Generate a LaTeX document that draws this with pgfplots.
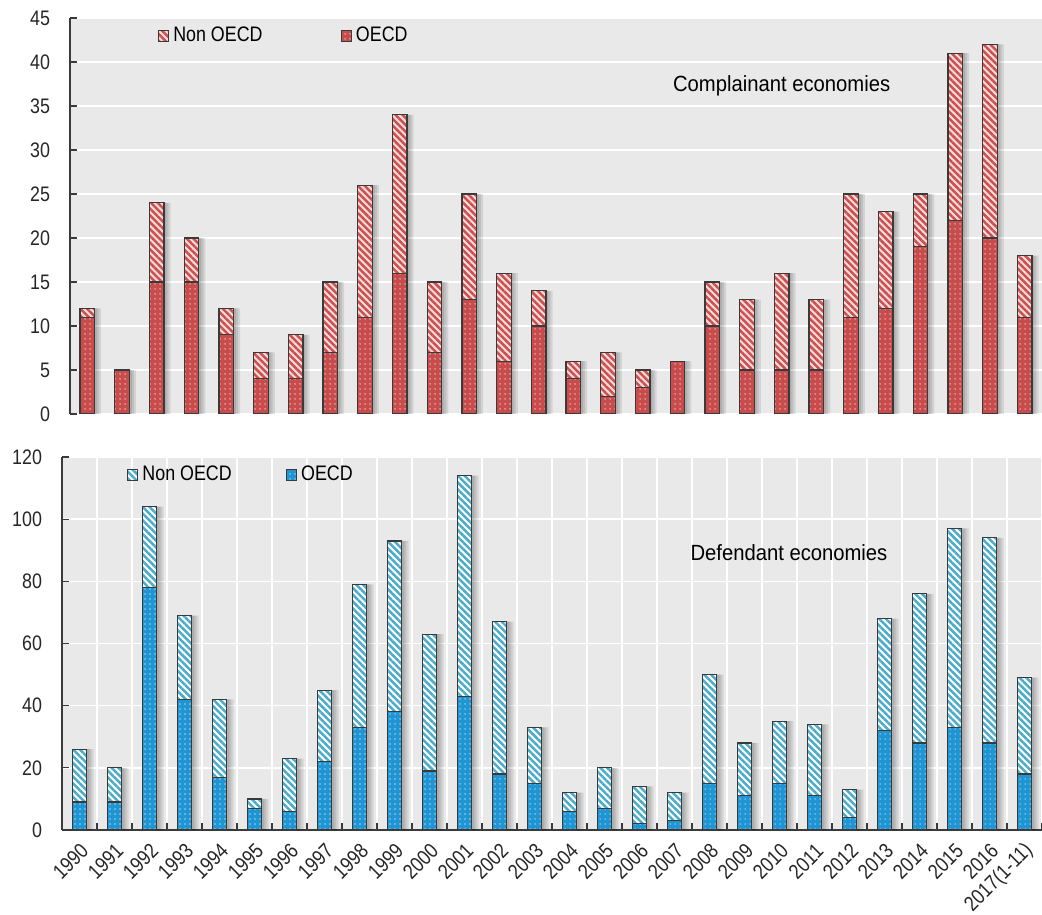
\documentclass[border=0pt]{standalone}
\usepackage{fontspec}
\setmainfont{Liberation Sans}[FakeStretch=0.85]
\newfontfamily\titlefont{Liberation Sans}[FakeStretch=0.92]
\usepackage{pgfplots}
\pgfplotsset{compat=1.18}
\usepackage{pgfplotstable}
\usetikzlibrary{patterns.meta}

\definecolor{redO}{HTML}{C94C4C}
\definecolor{redN}{HTML}{CD5050}
\definecolor{pinkbg}{HTML}{F7DCDC}
\definecolor{blueO}{HTML}{1F95D3}
\definecolor{blueN}{HTML}{4AABCB}
\definecolor{bggray}{HTML}{E9E9E9}
\definecolor{edge}{HTML}{3A3A3A}

\pgfplotstableread{
x tot oecd
0 12 11
1 5 5
2 24 15
3 20 15
4 12 9
5 7 4
6 9 4
7 15 7
8 26 11
9 34 16
10 15 7
11 25 13
12 16 6
13 14 10
14 6 4
15 7 2
16 5 3
17 6 6
18 15 10
19 13 5
20 16 5
21 13 5
22 25 11
23 23 12
24 25 19
25 41 22
26 42 20
27 18 11
}\comp

\pgfplotstableread{
x tot oecd
0 26 9
1 20 9
2 104 78
3 69 42
4 42 17
5 10 7
6 23 6
7 45 22
8 79 33
9 93 38
10 63 19
11 114 43
12 67 18
13 33 15
14 12 6
15 20 7
16 14 2
17 12 3
18 50 15
19 28 11
20 35 15
21 34 11
22 13 4
23 68 32
24 76 28
25 97 33
26 94 28
27 49 18
}\defe

\pgfplotsset{
 base/.style={
  scale only axis,
  ybar, bar width=0.42,
  xmin=-0.5, xmax=27.5, ymin=0,
  axis x line=bottom, axis y line=left,
  axis line style={-, draw=edge, line width=0.6pt},
  axis background/.style={fill=bggray},
  tick align=inside,
  major tick length=3.5pt, minor tick length=3.5pt,
  tick style={edge, line width=0.6pt},
  ymajorgrids, xminorgrids,
  major grid style={white, line width=0.8pt},
  minor grid style={white, line width=0.8pt},
  minor xtick={-0.5,0.5,...,27.5},
  /pgf/number format/assume math mode=true,
  tick label style={font=\fontsize{10.5}{12}\selectfont, text=black!85},
  yticklabel style={xshift=-6.5pt},
  legend cell align=left,
  legend style={draw=none, fill=none, inner sep=0pt, anchor=west,
    font=\fontsize{10.5}{12}\selectfont, legend columns=-1},
 },
 myleg/.style={legend image code/.code={\draw[##1, line width=0.5pt] (0pt,-2.6pt) rectangle (5.2pt,2.6pt);}},
 shadow/.style={fill=black, draw=none, opacity=0.09, forget plot},
 stripes/.style={postaction={pattern={Lines[angle=-45,distance=2.4pt,line width=1.25pt]}, pattern color=#1}},
 dots/.style={postaction={pattern={Dots[distance=2.5pt,radius=0.38pt]}, pattern color=#1}},
}

\begin{document}
\begin{tikzpicture}
% Top: complainant
\begin{axis}[base,
  at={(35pt,250pt)}, anchor=south west, width=486pt, height=198pt,
  ymax=45, ytick={0,5,...,45},
  xtick=\empty, minor x tick style={draw=none}, x axis line style={draw=none},
  legend style={at={(axis description cs:0.09,0.9545)},
    /tikz/every even column/.append style={column sep=37pt}},
]
\addplot[shadow, bar shift=0.07] table[x=x,y=tot]{\comp};
\addplot[shadow, bar shift=0.13] table[x=x,y=tot]{\comp};
\addplot[shadow, bar shift=0.19] table[x=x,y=tot]{\comp};
\addplot[bar shift=0, draw=edge, line width=0.6pt, fill=pinkbg, stripes=redN, myleg]
  table[x=x,y=tot]{\comp};
\addlegendentry{Non OECD}
\addplot[bar shift=0, draw=edge, line width=0.6pt, fill=redO, dots=white!65!redO, myleg]
  table[x=x,y=oecd]{\comp};
\addlegendentry{OECD}
\node[font=\titlefont\fontsize{11}{13}\selectfont] at (axis cs:20,37.3) {Complainant economies};
\end{axis}
% Bottom: defendant
\begin{axis}[base,
  at={(31pt,42pt)}, anchor=south west, width=490pt, height=186.5pt,
  ymax=120, ytick={0,20,...,120},
  xtick={0,...,27},
  xticklabels={1990,1991,1992,1993,1994,1995,1996,1997,1998,1999,2000,2001,2002,2003,2004,2005,2006,2007,2008,2009,2010,2011,2012,2013,2014,2015,2016,2017(1-11)},
  major x tick style={draw=none},
  xticklabel style={xshift=5pt, yshift=-6.4pt, rotate=45, anchor=east},
  legend style={at={(axis description cs:0.066,0.9517)},
    /tikz/every even column/.append style={column sep=25pt}},
]
\addplot[shadow, bar shift=0.07] table[x=x,y=tot]{\defe};
\addplot[shadow, bar shift=0.13] table[x=x,y=tot]{\defe};
\addplot[shadow, bar shift=0.19] table[x=x,y=tot]{\defe};
\addplot[bar shift=0, draw=edge, line width=0.6pt, fill=white, stripes=blueN, myleg]
  table[x=x,y=tot]{\defe};
\addlegendentry{Non OECD}
\addplot[bar shift=0, draw=edge, line width=0.6pt, fill=blueO, dots=white!60!blueO, myleg]
  table[x=x,y=oecd]{\defe};
\addlegendentry{OECD}
\node[font=\titlefont\fontsize{11}{13}\selectfont] at (axis cs:20.27,89.1) {Defendant economies};
\end{axis}
\pgfresetboundingbox
\path (0,0) rectangle (521pt,457pt);
\end{tikzpicture}
\end{document}
